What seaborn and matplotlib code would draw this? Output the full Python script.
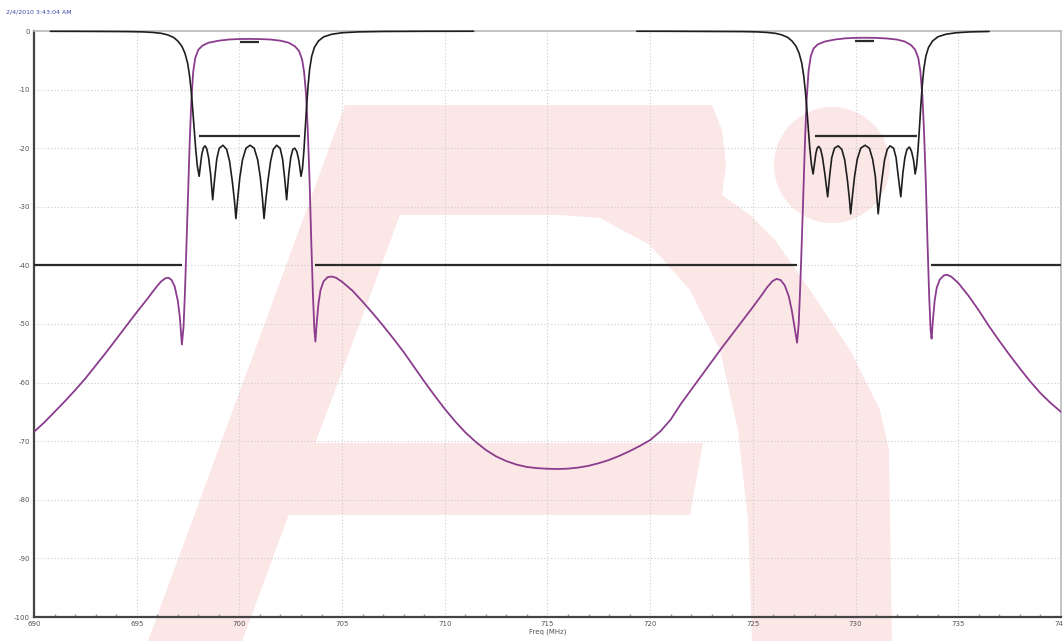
import numpy as np
import pandas as pd
import matplotlib
matplotlib.use("Agg")
import matplotlib.pyplot as plt
import seaborn as sns
from matplotlib.patches import Polygon, Circle
from matplotlib.ticker import MultipleLocator

# ---------------- data ----------------
s21_freq = [690.0, 690.5, 691.0, 691.5, 692.0, 692.5, 693.0, 693.5, 694.0, 694.5,
            695.0, 695.5, 695.8, 696.0, 696.2, 696.4, 696.55, 696.7, 696.85, 697.0,
            697.1, 697.2, 697.28, 697.35, 697.42, 697.5, 697.58, 697.66, 697.75, 697.85,
            698.0, 698.2, 698.5, 699.0, 699.5, 700.0, 700.5, 701.0, 701.5, 702.0,
            702.4, 702.7, 702.9, 703.05, 703.15, 703.25, 703.33, 703.42, 703.5, 703.58,
            703.65, 703.7, 703.76, 703.85, 703.95, 704.1, 704.3, 704.5, 704.7, 705.0,
            705.5, 706.0, 706.5, 707.0, 707.5, 708.0, 708.5, 709.0, 709.5, 710.0,
            710.5, 711.0, 711.5, 712.0, 712.5, 713.0, 713.5, 714.0, 714.5, 715.0,
            715.5, 716.0, 716.5, 717.0, 717.5, 718.0, 718.5, 719.0, 719.5, 720.0,
            720.5, 721.0, 721.5, 722.0, 722.5, 723.0, 723.5, 724.0, 724.5, 725.0,
            725.4, 725.7, 725.95, 726.15, 726.35, 726.55, 726.75, 726.9, 727.05, 727.15,
            727.23, 727.3, 727.38, 727.46, 727.54, 727.62, 727.71, 727.82, 727.95, 728.15,
            728.5, 729.0, 729.5, 730.0, 730.5, 731.0, 731.5, 732.0, 732.4, 732.7,
            732.9, 733.05, 733.15, 733.25, 733.33, 733.42, 733.5, 733.58, 733.65, 733.7,
            733.76, 733.85, 733.95, 734.1, 734.3, 734.45, 734.65, 735.0, 735.5, 736.0,
            736.5, 737.0, 737.5, 738.0, 738.5, 739.0, 739.5, 740.0]
s21_db = [-68.4, -66.8, -65.0, -63.2, -61.3, -59.3, -57.1, -54.9, -52.6, -50.3,
          -48.0, -45.8, -44.4, -43.5, -42.7, -42.2, -42.1, -42.5, -43.6, -46.0,
          -48.8, -53.5, -50.5, -44.5, -37.0, -28.0, -19.0, -12.0, -7.0, -4.6,
          -3.2, -2.5, -2.0, -1.65, -1.45, -1.37, -1.35, -1.38, -1.45, -1.65,
          -2.0, -2.6, -3.4, -4.8, -7.0, -11.0, -17.0, -26.0, -36.0, -45.0,
          -51.0, -53.0, -50.0, -46.5, -44.2, -42.7, -42.0, -41.9, -42.1, -42.8,
          -44.3, -46.2, -48.2, -50.3, -52.5, -54.8, -57.3, -59.8, -62.2, -64.5,
          -66.6, -68.5, -70.1, -71.5, -72.6, -73.4, -74.0, -74.4, -74.6, -74.7,
          -74.75, -74.68, -74.5, -74.2, -73.75, -73.2, -72.5, -71.7, -70.8, -69.8,
          -68.3, -66.3, -63.6, -61.2, -58.8, -56.4, -54.0, -51.7, -49.4, -47.1,
          -45.2, -43.7, -42.7, -42.3, -42.5, -43.4, -45.3, -47.8, -51.0, -53.2,
          -50.0, -44.0, -36.0, -27.0, -18.5, -11.5, -6.8, -4.3, -3.0, -2.3,
          -1.8, -1.45, -1.25, -1.17, -1.15, -1.18, -1.27, -1.45, -1.8, -2.4,
          -3.2, -4.6, -6.8, -11.0, -17.0, -26.0, -36.0, -45.0, -51.0, -52.5,
          -49.5, -46.0, -43.8, -42.4, -41.7, -41.6, -41.9, -43.0, -45.2, -47.7,
          -50.4, -52.9, -55.3, -57.6, -59.8, -61.8, -63.5, -65.0]

s11_band1_freq = [690.8, 692.0, 693.5, 694.5, 695.3, 695.8, 696.2, 696.5, 696.8, 697.0,
                  697.2, 697.35, 697.48, 697.58, 697.66, 697.73, 697.8, 697.87, 697.95, 698.04,
                  698.1, 698.17, 698.25, 698.33, 698.41, 698.5, 698.6, 698.7, 698.8, 698.9,
                  699.02, 699.2, 699.38, 699.52, 699.66, 699.76, 699.83, 699.92, 700.02, 700.15,
                  700.32, 700.52, 700.72, 700.89, 701.02, 701.12, 701.2, 701.28, 701.38, 701.52,
                  701.65, 701.81, 701.98, 702.1, 702.2, 702.3, 702.4, 702.5, 702.6, 702.7,
                  702.8, 702.9, 703.0, 703.07, 703.14, 703.2, 703.27, 703.34, 703.42, 703.52,
                  703.65, 703.85, 704.1, 704.5, 705.0, 705.8, 707.0, 709.0, 711.4]
s11_band1_db = [-0.05, -0.06, -0.08, -0.1, -0.15, -0.25, -0.4, -0.65, -1.1, -1.7,
                -2.6, -3.8, -5.5, -7.8, -10.5, -13.5, -16.8, -20.0, -23.0, -24.8,
                -23.0, -21.0, -19.9, -19.6, -20.1, -21.6, -24.5, -28.8, -25.0, -21.8,
                -20.0, -19.5, -20.2, -22.2, -25.8, -29.0, -32.0, -28.5, -25.0, -22.0,
                -20.0, -19.5, -20.0, -22.0, -25.0, -28.5, -32.0, -29.0, -25.8, -22.2,
                -20.2, -19.5, -20.0, -21.8, -25.0, -28.8, -24.5, -21.6, -20.2, -20.0,
                -20.6, -22.2, -24.8, -23.5, -20.5, -17.0, -13.0, -9.5, -6.5, -4.3,
                -2.8, -1.7, -1.0, -0.55, -0.3, -0.15, -0.08, -0.05, -0.04]

s11_band2_freq = [719.35, 721.0, 723.0, 724.5, 725.2, 725.7, 726.1, 726.4, 726.7, 726.9,
                  727.1, 727.25, 727.38, 727.48, 727.56, 727.63, 727.7, 727.77, 727.85, 727.93,
                  728.0, 728.07, 728.14, 728.21, 728.3, 728.39, 728.5, 728.64, 728.74, 728.84,
                  728.97, 729.15, 729.33, 729.47, 729.6, 729.69, 729.76, 729.85, 729.95, 730.08,
                  730.25, 730.46, 730.67, 730.83, 730.96, 731.03, 731.1, 731.18, 731.28, 731.41,
                  731.54, 731.68, 731.85, 731.97, 732.07, 732.2, 732.3, 732.4, 732.5, 732.62,
                  732.72, 732.82, 732.9, 732.97, 733.04, 733.1, 733.17, 733.24, 733.32, 733.42,
                  733.55, 733.75, 734.0, 734.4, 734.9, 735.6, 736.5]
s11_band2_db = [-0.04, -0.05, -0.08, -0.1, -0.15, -0.25, -0.4, -0.65, -1.1, -1.7,
                -2.6, -3.8, -5.5, -7.8, -10.5, -13.5, -16.8, -20.0, -22.8, -24.4,
                -22.6, -20.8, -19.9, -19.7, -20.2, -21.6, -24.3, -28.3, -24.6, -21.6,
                -20.0, -19.6, -20.2, -22.0, -25.4, -28.4, -31.2, -28.0, -24.8, -21.9,
                -20.0, -19.5, -20.0, -21.9, -24.8, -28.0, -31.2, -28.4, -25.4, -22.0,
                -20.2, -19.6, -20.0, -21.6, -24.6, -28.3, -24.3, -21.6, -20.2, -19.8,
                -20.5, -22.0, -24.4, -23.0, -20.2, -17.0, -13.0, -9.5, -6.5, -4.3,
                -2.8, -1.7, -1.0, -0.55, -0.3, -0.15, -0.08]

# limit lines: start freq, end freq, level (dB)
limit_start = [690.0, 703.7, 733.65, 698.05, 728.0, 700.03, 729.97]
limit_end = [697.2, 727.15, 740.0, 702.95, 733.0, 700.95, 730.9]
limit_level = [-40, -40, -40, -18, -18, -1.8, -1.7]

x_ticks = [690, 695, 700, 705, 710, 715, 720, 725, 730, 735, 740]
y_ticks = [0, -10, -20, -30, -40, -50, -60, -70, -80, -90, -100]
timestamp = "2/4/2010 3:43:04 AM"
x_label = "Freq (MHz)"

# ---------------- figure ----------------
sns.set_theme(style="white")
plt.rcParams['font.family'] = ['DejaVu Sans']

W, H = 1063, 641
fig = plt.figure(figsize=(W / 100, H / 100), dpi=100)
fig.patch.set_facecolor("white")

# background watermark (pixel coordinates)
bg = fig.add_axes([0, 0, 1, 1], zorder=0)
bg.set_xlim(0, W)
bg.set_ylim(H, 0)
bg.axis("off")
pink = "#fce7e7"
logo = [(148, 641), (345, 105), (712, 105), (722, 130), (726, 165), (722, 195),
        (750, 215), (775, 240), (810, 290), (850, 350), (880, 410), (889, 450),
        (892, 641), (752, 641), (748, 520), (738, 430), (720, 350), (690, 290),
        (650, 245), (600, 218), (560, 215), (400, 215), (242, 641)]
bg.add_patch(Polygon(logo, closed=True, facecolor=pink, edgecolor="none"))
bg.add_patch(Polygon([(313, 443), (703, 443), (690, 515), (287, 515)],
                     closed=True, facecolor=pink, edgecolor="none"))
bg.add_patch(Circle((832, 165), 58, facecolor=pink, edgecolor="none"))

ax = fig.add_axes([34 / W, 24 / H, 1027 / W, 586 / H], zorder=1)
ax.patch.set_alpha(0)

df21 = pd.DataFrame({"freq": s21_freq, "db": s21_db})
df11a = pd.DataFrame({"freq": s11_band1_freq, "db": s11_band1_db})
df11b = pd.DataFrame({"freq": s11_band2_freq, "db": s11_band2_db})

sns.lineplot(data=df21, x="freq", y="db", ax=ax, color="#8b3c8d", lw=1.3,
             estimator=None, sort=False, zorder=3)
for d in (df11a, df11b):
    sns.lineplot(data=d, x="freq", y="db", ax=ax, color="#1e1e1e", lw=1.2,
                 estimator=None, sort=False, zorder=4, clip_on=False)

for s, e, lv in zip(limit_start, limit_end, limit_level):
    ax.hlines(lv, s, e, color="#2a2a2a", lw=1.6, zorder=5)

ax.set_xlim(690, 740)
ax.set_ylim(-100, 0)
ax.set_xticks(x_ticks)
ax.set_xticklabels([str(t) for t in x_ticks])
ax.set_yticks(y_ticks)
ax.set_yticklabels([str(t) for t in y_ticks])
ax.xaxis.set_minor_locator(MultipleLocator(1))
ax.grid(True, which="major", color="#cccccc", ls=(0, (1, 2)), lw=0.8)
ax.tick_params(axis="both", which="major", length=0, labelsize=5, labelcolor="#555555", pad=3)
ax.tick_params(axis="x", which="minor", length=2.5, direction="in", color="#999999", bottom=True)
ax.set_xlabel(x_label, fontsize=5, color="#555555", labelpad=1)
ax.set_ylabel("")

for side in ("left", "bottom"):
    ax.spines[side].set_color("#444444")
    ax.spines[side].set_linewidth(1.6)
for side in ("top", "right"):
    ax.spines[side].set_color("#bbbbbb")
    ax.spines[side].set_linewidth(1.2)

fig.text(6 / W, 1 - 12 / H, timestamp, fontsize=4.5, color="#3a48a8", va="center", ha="left")

fig.savefig("out.png", dpi=100, facecolor="white")
